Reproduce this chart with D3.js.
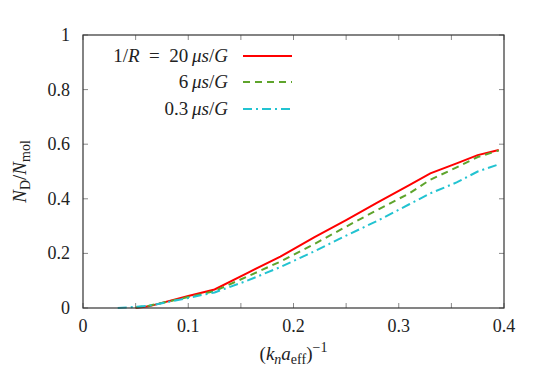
<!DOCTYPE html>
<html lang="en">
<head>
<meta charset="UTF-8">
<script src="https://d3js.org/d3.v7.min.js"></script>
<style>
  body { margin: 0; background: #fff; }
</style>
</head>
<body>
<div class="chart"></div>
<script>
// data
var xs    = [0.033, 0.05, 0.0625, 0.1, 0.125, 0.156, 0.1875, 0.22, 0.25, 0.28, 0.31, 0.33, 0.355, 0.375, 0.395]
var red   = [null, 0, 0.006, 0.044, 0.068, 0.128, 0.188, 0.26, 0.322, 0.387, 0.45, 0.493, 0.53, 0.56, 0.579]
var green = [null, 0.002, 0.008, 0.04, 0.062, 0.115, 0.17, 0.235, 0.298, 0.36, 0.42, 0.47, 0.515, 0.553, 0.577]
var cyan  = [0, 0.004, 0.008, 0.037, 0.057, 0.1, 0.15, 0.208, 0.265, 0.32, 0.38, 0.42, 0.46, 0.5, 0.526]
var xTicks = [0, 0.1, 0.2, 0.3, 0.4]
var xMinor = [0.05, 0.15, 0.25, 0.35]
var yTicks = [0, 0.2, 0.4, 0.6, 0.8, 1]

var width = 534, height = 390
var margin = { top: 35, right: 30, bottom: 82, left: 83 }
var w = width - margin.left - margin.right
var h = height - margin.top - margin.bottom
var serif = "'Liberation Serif', 'DejaVu Serif', 'Times New Roman', serif"

var svg = d3.select(".chart").append("svg")
    .attr("width", width).attr("height", height)
    .attr("font-family", serif)
    .style("font-family", serif)
var g = svg.append("g")
    .attr("transform", "translate(" + margin.left + "," + margin.top + ")")

var x = d3.scaleLinear().domain([0, 0.4]).range([0, w])
var y = d3.scaleLinear().domain([0, 1]).range([h, 0])

// ticks, inward on all sides
var tickCol = "#888"
var tl = 5
xTicks.concat(xMinor).forEach(function (t) {
    g.append("line").attr("x1", x(t)).attr("x2", x(t)).attr("y1", h).attr("y2", h - tl).attr("stroke", tickCol)
    g.append("line").attr("x1", x(t)).attr("x2", x(t)).attr("y1", 0).attr("y2", tl).attr("stroke", tickCol)
})
yTicks.forEach(function (t) {
    g.append("line").attr("y1", y(t)).attr("y2", y(t)).attr("x1", 0).attr("x2", tl).attr("stroke", tickCol)
    g.append("line").attr("y1", y(t)).attr("y2", y(t)).attr("x1", w).attr("x2", w - tl).attr("stroke", tickCol)
})

// tick labels
xTicks.forEach(function (t) {
    g.append("text").attr("x", x(t)).attr("y", h + 24).attr("fill", "#222")
        .attr("text-anchor", "middle").style("font-size", "18px").text(t)
})
yTicks.forEach(function (t) {
    g.append("text").attr("x", -13).attr("y", y(t) + 6).attr("fill", "#222")
        .attr("text-anchor", "end").style("font-size", "18px").text(t)
})

// curves
var series = [
    { vals: red,   color: "#ff0000", dash: null },
    { vals: green, color: "#5ea42c", dash: "7,5" },
    { vals: cyan,  color: "#22c3d1", dash: "9,4,2,4" }
]
var line = d3.line()
    .defined(function (d) { return d[1] != null })
    .x(function (d) { return x(d[0]) })
    .y(function (d) { return y(d[1]) })

series.forEach(function (s) {
    g.append("path")
        .datum(xs.map(function (v, i) { return [v, s.vals[i]] }))
        .attr("d", line)
        .attr("fill", "none")
        .attr("stroke", s.color)
        .attr("stroke-width", 2)
        .attr("stroke-dasharray", s.dash)
})

// frame
g.append("rect").attr("width", w).attr("height", h)
    .attr("fill", "none").attr("stroke", "#333").attr("stroke-width", 1.2)

// legend
var legY = [56, 82, 109]
function legText(yy, parts) {
    var t = svg.append("text").attr("x", 228).attr("y", yy + 6).attr("fill", "#222")
        .attr("text-anchor", "end").style("font-size", "19px")
    parts.forEach(function (p) {
        t.append("tspan").style("font-style", p[1] ? "italic" : "normal").text(p[0])
    })
}
legText(legY[0], [["1/", 0], ["R", 1], ["\u2002=\u200220\u2009", 0], ["\u03bcs", 1], ["/", 0], ["G", 1]])
legText(legY[1], [["6\u2009", 0], ["\u03bcs", 1], ["/", 0], ["G", 1]])
legText(legY[2], [["0.3\u2009", 0], ["\u03bcs", 1], ["/", 0], ["G", 1]])
series.forEach(function (s, i) {
    svg.append("line").attr("x1", 243).attr("x2", 292)
        .attr("y1", legY[i]).attr("y2", legY[i])
        .attr("stroke", s.color).attr("stroke-width", 2)
        .attr("stroke-dasharray", s.dash)
})

// axis titles
var xt = svg.append("text").attr("x", margin.left + w / 2).attr("y", 360).attr("fill", "#222")
    .attr("text-anchor", "middle").style("font-size", "19px")
xt.append("tspan").text("(")
xt.append("tspan").style("font-style", "italic").text("k")
xt.append("tspan").style("font-style", "italic").style("font-size", "14px").attr("dy", 4).text("n")
xt.append("tspan").style("font-style", "italic").attr("dy", -4).text("a")
xt.append("tspan").style("font-size", "14px").attr("dy", 4).text("eff")
xt.append("tspan").attr("dy", -4).text(")")
xt.append("tspan").style("font-size", "14px").attr("dy", -8).text("\u22121")

var yt = svg.append("text").attr("fill", "#222")
    .attr("transform", "translate(26," + (margin.top + h / 2) + ") rotate(-90)")
    .attr("text-anchor", "middle").style("font-size", "19px")
yt.append("tspan").style("font-style", "italic").text("N")
yt.append("tspan").style("font-size", "14px").attr("dy", 4).text("D")
yt.append("tspan").attr("dy", -4).text("/")
yt.append("tspan").style("font-style", "italic").text("N")
yt.append("tspan").style("font-size", "14px").attr("dy", 4).text("mol")
</script>
</body>
</html>
